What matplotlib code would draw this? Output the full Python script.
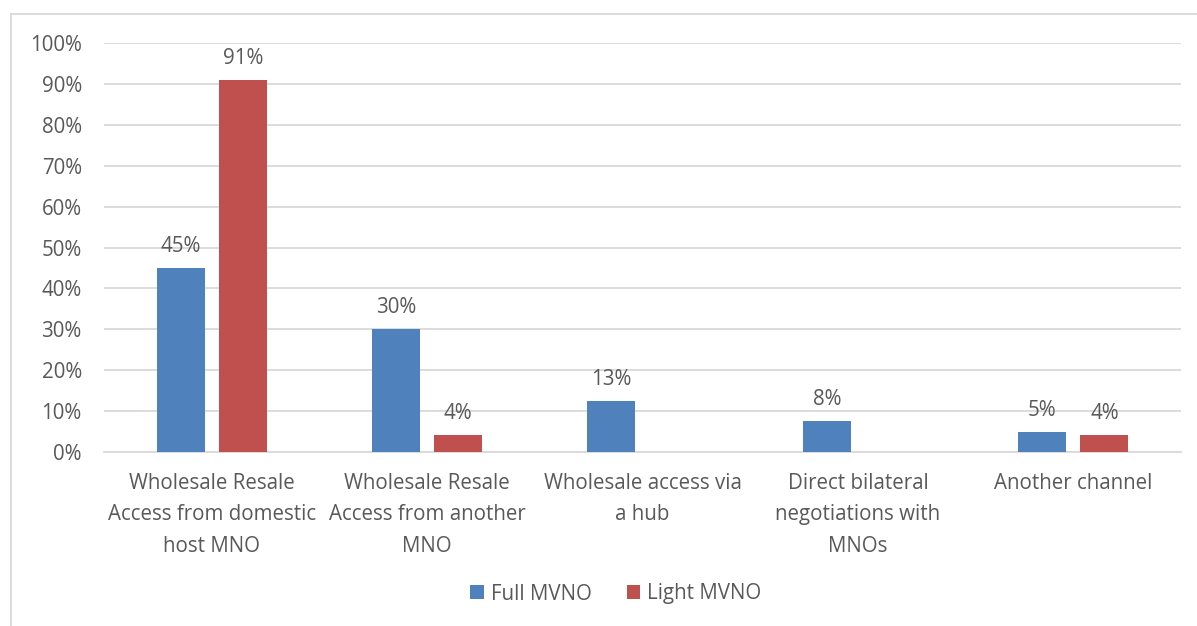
import numpy as np
import matplotlib.pyplot as plt
from matplotlib.lines import Line2D

plt.rcParams['font.family'] = ['Open Sans', 'DejaVu Sans']

# data
categories = ['Wholesale Resale\nAccess from domestic\nhost MNO',
              'Wholesale Resale\nAccess from another\nMNO',
              'Wholesale access via\na hub',
              'Direct bilateral\nnegotiations with\nMNOs',
              'Another channel']
full_mvno  = [45, 30, 12.5, 7.5, 5]
light_mvno = [91, 4.2, 0, 0, 4.2]
full_lab   = ['45%', '30%', '13%', '8%', '5%']
light_lab  = ['91%', '4%', '', '', '4%']

c_full  = '#4F81BD'
c_light = '#C0504D'
c_text  = '#595959'
c_grid  = '#D9D9D9'
fs = 14.8

fig = plt.figure(figsize=(11.97, 6.26), dpi=100)
ax = fig.add_axes([104/1197, 1-452/626, (1181-104)/1197, (452-43)/626])

x = np.arange(len(categories))
w = 0.223
off = 0.144
b1 = ax.bar(x-off, full_mvno, w, color=c_full, label='Full MVNO', zorder=3)
b2 = ax.bar(x+off, light_mvno, w, color=c_light, label='Light MVNO', zorder=3)

for xi, v, s in zip(x-off, full_mvno, full_lab):
    ax.text(xi, v+2.7, s, ha='center', va='bottom', fontsize=fs, color=c_text)
for xi, v, s in zip(x+off, light_mvno, light_lab):
    if s:
        ax.text(xi, v+2.7, s, ha='center', va='bottom', fontsize=fs, color=c_text)

ax.set_xlim(-0.5, len(categories)-0.5)
ax.set_ylim(0, 100)
ax.set_yticks(np.arange(0, 101, 10))
ax.set_yticklabels(['%d%%' % t for t in range(0, 101, 10)])
ax.set_xticks(x)
ax.set_xticklabels(categories, linespacing=1.65)
ax.tick_params(axis='both', length=0, labelsize=fs, labelcolor=c_text)
ax.tick_params(axis='y', pad=16)
ax.tick_params(axis='x', pad=15)
ax.grid(axis='y', color=c_grid, linewidth=1.3, zorder=0)
for sp in ['top', 'right', 'left']:
    ax.spines[sp].set_visible(False)
ax.spines['bottom'].set_color(c_grid)
ax.spines['bottom'].set_linewidth(1.3)

leg = fig.legend(handles=[b1, b2], loc='center', bbox_to_anchor=(616/1197, 1-594/626),
                 ncol=2, frameon=False, fontsize=fs, handlelength=0.65, handleheight=0.65,
                 columnspacing=1.7, handletextpad=0.35)
for t in leg.get_texts():
    t.set_color(c_text)

# chart area border (cut at right and bottom)
fig.add_artist(Line2D([11/1197, 1], [1-14/626, 1-14/626], color=c_grid, linewidth=1.3))
fig.add_artist(Line2D([11/1197, 11/1197], [0, 1-14/626], color=c_grid, linewidth=1.3))

fig.savefig('out.png', dpi=100)
